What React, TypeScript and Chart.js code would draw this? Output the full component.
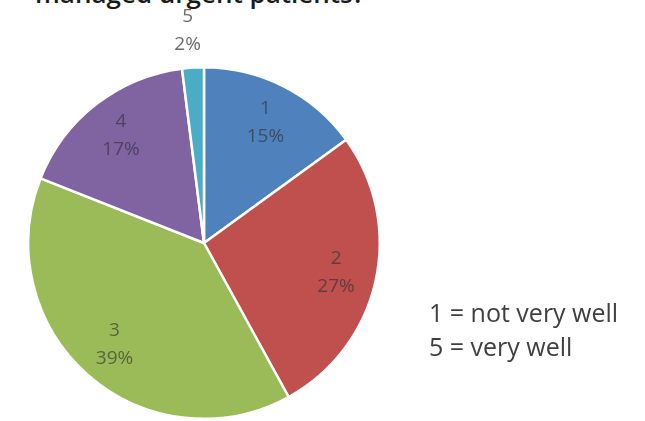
import React, { useEffect, useRef } from "react";
import { Chart, registerables } from "chart.js";

Chart.register(...registerables);

const categories = ["1", "2", "3", "4", "5"];
const percentages = [15, 27, 39, 17, 2];
const sliceColors = ["#4F81BD", "#C0504D", "#9BBB59", "#8064A2", "#4BACC6"];
const titleText = "managed urgent patients?";
const noteLines = ["1 = not very well", "5 = very well"];

const FONT = "'Open Sans', 'DejaVu Sans', sans-serif";

const labelPlugin = {
  id: "sliceLabels",
  afterDatasetsDraw(chart: any) {
    const ctx = chart.ctx;
    const meta = chart.getDatasetMeta(0);
    ctx.save();
    ctx.font = `19px ${FONT}`;
    ctx.textAlign = "center";
    ctx.textBaseline = "middle";
    meta.data.forEach((arc: any, i: number) => {
      const p = arc.getProps(["x", "y", "startAngle", "endAngle", "outerRadius"], true);
      const mid = (p.startAngle + p.endAngle) / 2;
      const small = percentages[i] < 5;
      const r = small ? p.outerRadius + 37 : p.outerRadius * 0.77;
      const cx = p.x + Math.cos(mid) * r - (small ? 3 : 0);
      const cy = p.y + Math.sin(mid) * r;
      ctx.fillStyle = small ? "#6b6b6b" : "rgba(45,45,55,0.62)";
      ctx.fillText(categories[i], cx, cy - 14);
      ctx.fillText(percentages[i] + "%", cx, cy + 14);
    });
    ctx.restore();
  },
};

export default function App() {
  const ref = useRef<HTMLCanvasElement>(null);
  useEffect(() => {
    document.body.style.margin = "0";
    const chart = new Chart(ref.current!, {
      type: "pie",
      data: {
        labels: categories,
        datasets: [
          {
            data: percentages,
            backgroundColor: sliceColors,
            borderColor: "#ffffff",
            borderWidth: 2.5,
          },
        ],
      },
      options: {
        responsive: false,
        animation: false,
        layout: { padding: { left: 27, right: 264, top: 66, bottom: 1 } },
        plugins: { legend: { display: false }, tooltip: { enabled: false } },
      },
      plugins: [labelPlugin],
    });
    return () => chart.destroy();
  }, []);
  return (
    <div style={{ position: "relative", width: 645, height: 421, background: "#fff", overflow: "hidden" }}>
      <div
        style={{
          position: "absolute",
          left: 35,
          top: -27,
          fontFamily: FONT,
          fontSize: 26,
          fontWeight: 600,
          lineHeight: "40px",
          color: "#1a1a1a",
          whiteSpace: "nowrap",
        }}
      >
        {titleText}
      </div>
      <canvas ref={ref} width={645} height={421} style={{ position: "absolute", left: 0, top: 0 }} />
      <div
        style={{
          position: "absolute",
          left: 429,
          top: 295,
          fontFamily: FONT,
          fontSize: 25,
          lineHeight: "34px",
          color: "#404040",
          whiteSpace: "nowrap",
        }}
      >
        {noteLines.map((l) => (
          <div key={l}>{l}</div>
        ))}
      </div>
    </div>
  );
}
